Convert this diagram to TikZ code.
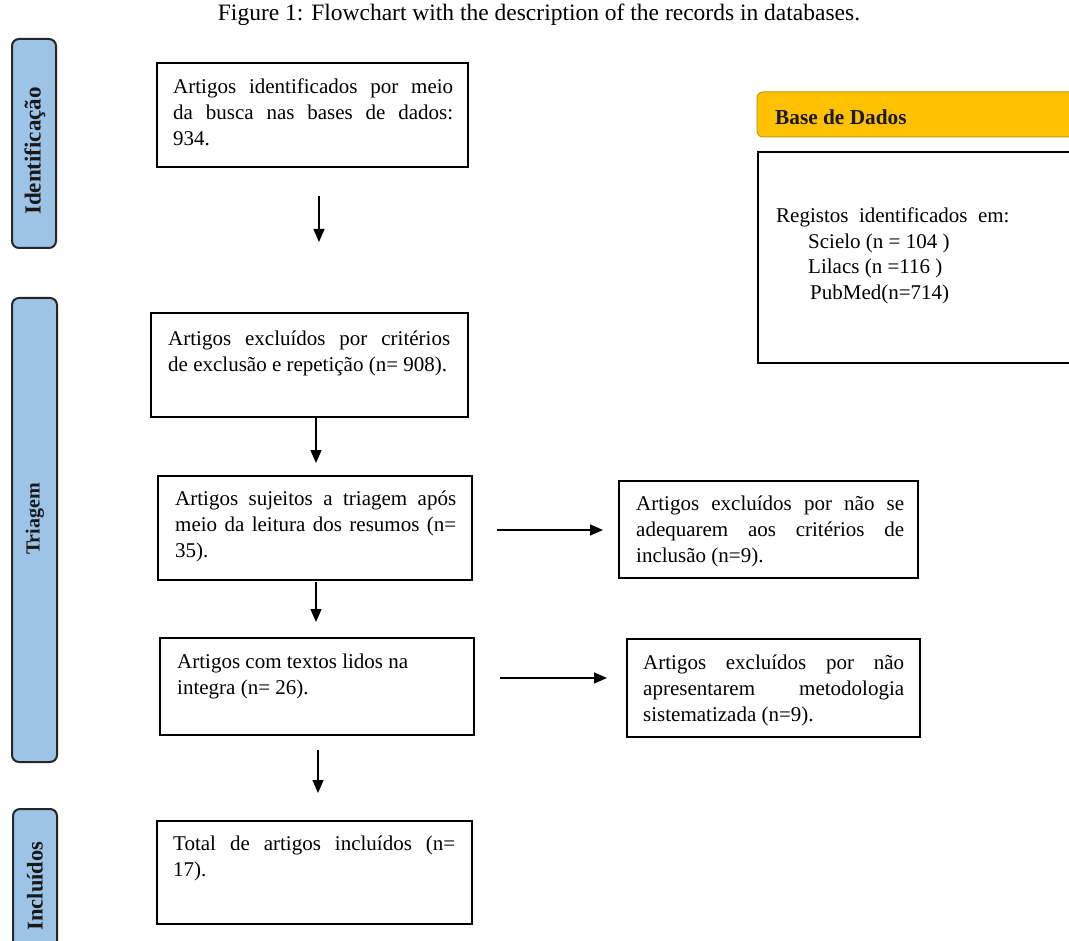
\documentclass[tikz,border=0pt]{standalone}
\usepackage{fontspec}
\setmainfont{Liberation Serif}
\usetikzlibrary{arrows.meta}
\newcommand\flowfont{\fontsize{21pt}{26pt}\selectfont\hyphenpenalty=10000\relax}
\newcommand\barfont{\fontsize{20pt}{24pt}\selectfont\bfseries}
\definecolor{barblue}{HTML}{9DC3E6}
\definecolor{hdrorange}{HTML}{FFC000}
\definecolor{hdredge}{HTML}{C99A00}
\begin{document}
\begin{tikzpicture}[x=1pt,y=-1pt,
  frame/.style={draw=black, line width=1.8pt, inner sep=0pt, fill=white},
  txt/.style={anchor=north west, inner sep=0pt, align=justify, font=\flowfont},
  sidebar/.style={draw=black!85, line width=2pt, fill=barblue, rounded corners=7pt,
    rotate=90, inner sep=0pt},
  barlabel/.style={rotate=90, inner sep=0pt, text=black!90},
  arr/.style={line width=1.4pt, -{Triangle[length=13pt,width=11pt]}}]
\useasboundingbox (0,0) rectangle (1069,941);
\clip (0,0) rectangle (1069,941);
\fill[white] (0,0) rectangle (1069,941);

% title
\node[font=\fontsize{23.5pt}{28pt}\selectfont, anchor=base] (title) at (539,21) {Figure 1: Flowchart with the description of the records in databases.};

% side bars
\node[sidebar, minimum width=209pt, minimum height=44pt] (sb1) at (34,143.5) {};
\node[barlabel, font=\fontsize{23pt}{26pt}\selectfont\bfseries] (sl1) at (35,151) {Identificação};
\node[sidebar, minimum width=464pt, minimum height=45pt] (sb2) at (34.5,530) {};
\node[barlabel, font=\fontsize{20pt}{24pt}\selectfont\bfseries] (sl2) at (35,519) {Triagem};
\node[sidebar, minimum width=154pt, minimum height=44pt] (sb3) at (35,886) {};
\node[barlabel, font=\fontsize{22.5pt}{26pt}\selectfont\bfseries] (sl3) at (35,886) {Incluídos};

% main boxes
\node[frame, minimum width=311pt, minimum height=104pt] (b1) at (312.5,115) {};
\node[txt, text width=280pt] (t1) at (173,78.5) {Artigos identificados por meio\linebreak da busca nas bases de dados:\linebreak 934.};

\node[frame, minimum width=317pt, minimum height=104pt] (b2) at (309.5,365) {};
\node[txt, text width=282pt] (t2) at (168,330.5) {Artigos excluídos por critérios\linebreak de exclusão e repetição (n= 908).};

\node[frame, minimum width=314pt, minimum height=104pt] (b3) at (315,528) {};
\node[txt, text width=281pt] (t3) at (175,490.5) {Artigos sujeitos a triagem após\linebreak meio da leitura dos resumos (n=\linebreak 35).};

\node[frame, minimum width=299pt, minimum height=97pt] (b4) at (768.5,529.5) {};
\node[txt, text width=268pt] (t4) at (636,495.5) {Artigos excluídos por não se\linebreak adequarem aos critérios de\linebreak inclusão (n=9).};

\node[frame, minimum width=314pt, minimum height=97pt] (b5) at (317,686.5) {};
\node[txt, text width=285pt] (t5) at (177,653.5) {Artigos com textos lidos na\\ integra (n= 26).};

\node[frame, minimum width=293pt, minimum height=98pt] (b6) at (773.5,688) {};
\node[txt, text width=261pt] (t6) at (643,654.5) {Artigos excluídos por não\linebreak apresentarem metodologia\linebreak sistematizada (n=9).};

\node[frame, minimum width=315pt, minimum height=103pt] (b7) at (314.5,872.5) {};
\node[txt, text width=282pt] (t7) at (173,835.5) {Total de artigos incluídos (n=\linebreak 17).};

% database panel
\node[draw=hdredge, line width=1pt, fill=hdrorange, rounded corners=6pt,
  minimum width=333pt, minimum height=45pt, inner sep=0pt] (bh) at (923.5,114.5) {};
\node[anchor=west, inner sep=0pt, font=\fontsize{21.3pt}{25pt}\selectfont\bfseries, text=black!90] (bht) at (775,117) {Base de Dados};
\node[frame, minimum width=332pt, minimum height=211pt] (bd) at (924,257.5) {};
\node[anchor=north west, inner sep=0pt, align=left, font=\fontsize{21pt}{25.7pt}\selectfont] (bdt) at (776,207.5)
  {Registos\ \ identificados\ \ em:\\
   \hspace*{32pt}Scielo (n = 104 )\\
   \hspace*{32pt}Lilacs (n =116 )\\
   \hspace*{34pt}PubMed(n=714)};

% connectors
\coordinate (a1s) at (319,196); \coordinate (a1e) at (319,242);
\coordinate (a2s) at (316,418); \coordinate (a2e) at (316,463);
\coordinate (a3s) at (316,582); \coordinate (a3e) at (316,622);
\coordinate (a4s) at (318,750); \coordinate (a4e) at (318,793);
\coordinate (h1s) at (497,530); \coordinate (h1e) at (603,530);
\coordinate (h2s) at (500,678); \coordinate (h2e) at (607,678);
\draw[arr] (a1s) -- (a1e);
\draw[arr] (a2s) -- (a2e);
\draw[arr] (a3s) -- (a3e);
\draw[arr] (a4s) -- (a4e);
\draw[arr] (h1s) -- (h1e);
\draw[arr] (h2s) -- (h2e);
\end{tikzpicture}
\end{document}
